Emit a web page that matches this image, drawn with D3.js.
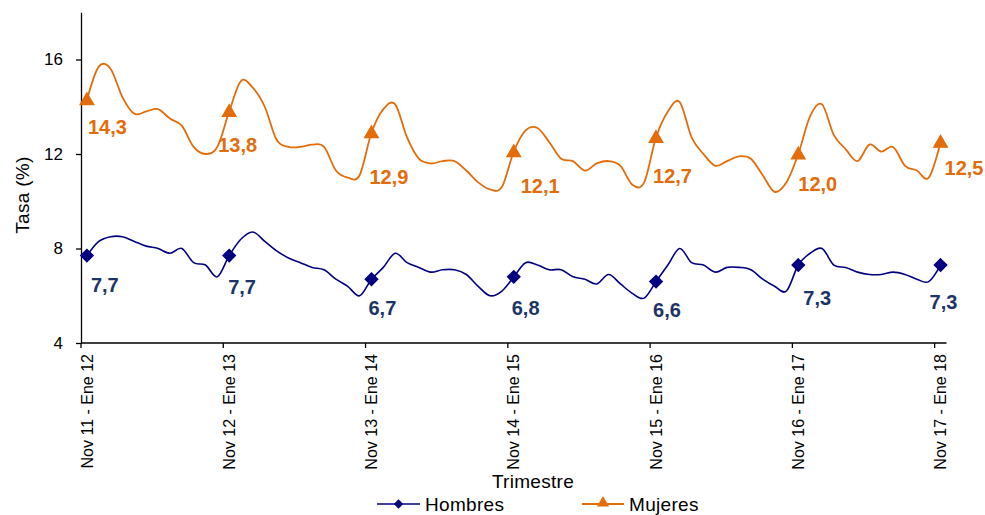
<!DOCTYPE html>
<html>
<head>
<meta charset="utf-8">
<script src="https://cdn.jsdelivr.net/npm/d3@7"></script>
<style>
  html, body { margin: 0; padding: 0; background: #fff; }
  svg { display: block; font-family: "Liberation Sans", Arial, sans-serif; }
</style>
</head>
<body>
<svg id="chart" width="985" height="515"></svg>
<script>
// ---------- DATA ----------
const monthNames = ["Ene","Feb","Mar","Abr","May","Jun","Jul","Ago","Sep","Oct","Nov","Dic"];
// 73 rolling quarters from "Nov 11 - Ene 12" to "Nov 17 - Ene 18"
const categories = [];
for (let k = 0; k < 73; k++) {
  const m0 = (10 + k) % 12, y0 = 11 + Math.floor((10 + k) / 12);
  const m2 = (12 + k) % 12, y2 = 11 + Math.floor((12 + k) / 12);
  categories.push(monthNames[m0] + " " + y0 + " - " + monthNames[m2] + " " + y2);
}
const tickLabels = ["Nov 11 - Ene 12","Nov 12 - Ene 13","Nov 13 - Ene 14","Nov 14 - Ene 15",
                    "Nov 15 - Ene 16","Nov 16 - Ene 17","Nov 17 - Ene 18"];

const hombres = [
  7.7, 8.3, 8.5, 8.5, 8.3, 8.1, 8.0, 7.8, 8.0, 7.4, 7.3, 6.8,
  7.7, 8.4, 8.7, 8.3, 7.9, 7.6, 7.4, 7.2, 7.1, 6.7, 6.4, 6.0,
  6.7, 7.2, 7.8, 7.4, 7.2, 7.0, 7.1, 7.1, 6.9, 6.4, 6.0, 6.2,
  6.8, 7.4, 7.3, 7.1, 7.1, 6.8, 6.7, 6.5, 6.9, 6.5, 6.1, 5.9,
  6.6, 7.3, 8.0, 7.4, 7.3, 7.0, 7.2, 7.2, 7.1, 6.7, 6.4, 6.2,
  7.3, 7.8, 8.0, 7.3, 7.2, 7.0, 6.9, 6.9, 7.0, 6.9, 6.7, 6.6,
  7.3
];
const mujeres = [
  14.3, 15.7, 15.6, 14.4, 13.7, 13.8, 13.9, 13.5, 13.2, 12.3, 12.0, 12.3,
  13.8, 15.1, 14.8, 14.0, 12.6, 12.3, 12.3, 12.4, 12.3, 11.3, 11.0, 11.1,
  12.9, 13.9, 14.1, 12.7, 11.8, 11.6, 11.7, 11.7, 11.3, 10.8, 10.5, 10.6,
  12.1, 13.0, 13.1, 12.5, 11.8, 11.7, 11.3, 11.6, 11.7, 11.5, 10.7, 10.8,
  12.7, 13.8, 14.2, 12.7, 12.0, 11.5, 11.7, 11.9, 11.8, 11.1, 10.4, 10.8,
  12.0, 13.6, 14.1, 12.8, 12.2, 11.7, 12.4, 12.1, 12.3, 11.5, 11.3, 11.0,
  12.5
];
const yTicks = [4, 8, 12, 16];
const seriesNames = ["Hombres", "Mujeres"];

// ---------- LAYOUT / STYLE ----------
const colH = "#000080", colHLabel = "#1C3567";
const colM = "#E46C0A", colMLabel = "#E46C0A";
// label nudges (text start dx, baseline dy) relative to each annual marker
const nudgeH = [[4,36],[-1,38],[-3,36],[-2,38],[-3,35],[5,40],[-11,44]];
const nudgeM = [[1,34],[-11,41],[-2,51],[7,41.5],[-3,46],[0,37],[4,33]];

const svg = d3.select("#chart");
const x = d3.scaleBand().domain(categories).range([81, 946.5]).padding(0);
const y = d3.scaleLinear().domain([4, 18]).range([343, 12.25]);
const cx = c => x(c) + x.bandwidth() / 2;

// Y axis
const yAxis = svg.append("g").attr("transform", "translate(81,0)")
  .call(d3.axisLeft(y).tickValues(yTicks).tickSize(5).tickSizeOuter(0).tickPadding(13));
yAxis.select(".domain").attr("stroke", "#000").attr("stroke-width", 1.3);
yAxis.selectAll(".tick line").attr("stroke", "#000").attr("stroke-width", 1.3);
yAxis.selectAll(".tick text").attr("font-size", 17).attr("fill", "#000")
  .attr("font-family", "Liberation Sans, Arial, sans-serif");

// X axis line
svg.append("line").attr("x1", x.range()[0]).attr("x2", x.range()[1])
  .attr("y1", y(4)).attr("y2", y(4)).attr("stroke", "#000").attr("stroke-width", 1.3);
// tick marks at band edges of labelled categories
svg.append("g").selectAll("line").data(tickLabels).join("line")
  .attr("x1", d => x(d)).attr("x2", d => x(d))
  .attr("y1", y(4)).attr("y2", y(4) + 5)
  .attr("stroke", "#000").attr("stroke-width", 1.3);
// tick labels
svg.append("g").selectAll("text").data(tickLabels).join("text")
  .attr("transform", d => `translate(${cx(d)},354) rotate(-90)`)
  .attr("text-anchor", "end").attr("dy", "0.35em")
  .attr("font-size", 16).attr("fill", "#000")
  .text(d => d);

// axis titles
svg.append("text").attr("transform", "translate(22,195) rotate(-90)")
  .attr("text-anchor", "middle").attr("dy", "0.35em")
  .attr("font-size", 19).attr("letter-spacing", 0.3).attr("fill", "#000").text("Tasa (%)");
svg.append("text").attr("x", 533).attr("y", 488)
  .attr("text-anchor", "middle").attr("font-size", 19).attr("letter-spacing", 0.3)
  .attr("fill", "#000").text("Trimestre");

// lines
const line = d3.line().x((d, i) => cx(categories[i])).y(d => y(d)).curve(d3.curveCardinal.tension(0));
svg.append("path").datum(mujeres).attr("d", line)
  .attr("fill", "none").attr("stroke", colM).attr("stroke-width", 1.8);
svg.append("path").datum(hombres).attr("d", line)
  .attr("fill", "none").attr("stroke", colH).attr("stroke-width", 1.6);

// markers at annual points
const diamond = d3.symbol().type(d3.symbolDiamond2).size(95);
const triangle = d3.symbol().type(d3.symbolTriangle).size(82);
const fmt = v => d3.format(".1f")(v).replace(".", ",");
tickLabels.forEach((c, k) => {
  const i = categories.indexOf(c);
  svg.append("path").attr("d", diamond())
    .attr("transform", `translate(${cx(c)},${y(hombres[i])})`)
    .attr("fill", colH).attr("stroke", colH).attr("stroke-width", 1.5);
  svg.append("path").attr("d", triangle())
    .attr("transform", `translate(${cx(c)},${y(mujeres[i]) + 1})`)
    .attr("fill", colM).attr("stroke", colM).attr("stroke-width", 1.2);
  svg.append("text")
    .attr("x", cx(c) + nudgeH[k][0]).attr("y", y(hombres[i]) + nudgeH[k][1])
    .attr("font-size", 20).attr("font-weight", "bold").attr("fill", colHLabel)
    .text(fmt(hombres[i]));
  svg.append("text")
    .attr("x", cx(c) + nudgeM[k][0]).attr("y", y(mujeres[i]) + nudgeM[k][1])
    .attr("font-size", 20).attr("font-weight", "bold").attr("fill", colMLabel)
    .text(fmt(mujeres[i]));
});

// legend
const leg = svg.append("g");
leg.append("line").attr("x1", 377).attr("x2", 420).attr("y1", 504).attr("y2", 504)
  .attr("stroke", colH).attr("stroke-width", 1.6);
leg.append("path").attr("d", d3.symbol().type(d3.symbolDiamond2).size(55)())
  .attr("transform", "translate(398.5,504)").attr("fill", colH);
leg.append("text").attr("x", 425).attr("y", 511).attr("font-size", 19)
  .attr("letter-spacing", 0.3).attr("fill", "#000").text(seriesNames[0]);
leg.append("line").attr("x1", 582).attr("x2", 624).attr("y1", 504).attr("y2", 504)
  .attr("stroke", colM).attr("stroke-width", 1.8);
leg.append("path").attr("d", d3.symbol().type(d3.symbolTriangle).size(65)())
  .attr("transform", "translate(603,503)").attr("fill", colM);
leg.append("text").attr("x", 629).attr("y", 511).attr("font-size", 19)
  .attr("letter-spacing", 0.3).attr("fill", "#000").text(seriesNames[1]);
</script>
</body>
</html>
